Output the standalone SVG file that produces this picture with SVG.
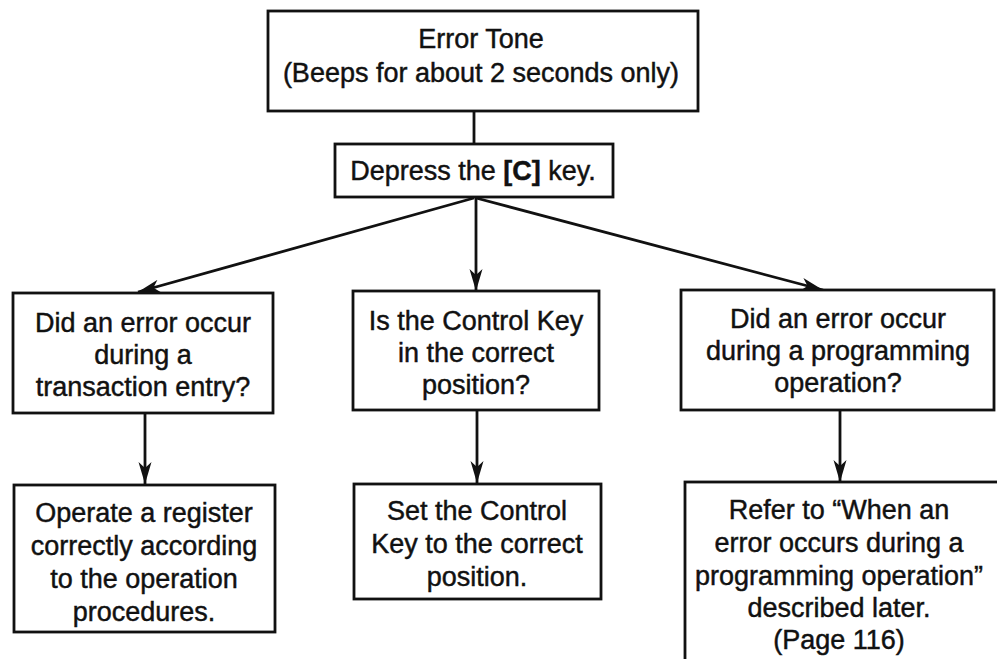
<svg xmlns="http://www.w3.org/2000/svg" width="997" height="659" viewBox="0 0 997 659">
<style>
.box{fill:#fff;stroke:#111;stroke-width:2.8}
.t{font-family:"Liberation Sans",Arial,Helvetica,sans-serif;font-size:27px;fill:#111;stroke:#111;stroke-width:0.45;text-anchor:middle}
.b{font-weight:bold}
.c{stroke:#111;stroke-width:2.8;fill:none}
</style>
<defs>
<marker id="ah" markerWidth="24" markerHeight="14" refX="22" refY="7" orient="auto" markerUnits="userSpaceOnUse">
<path d="M0,0.5 L22,7 L0,13.5 L6,7 Z" fill="#111"/>
</marker>
</defs>
<rect width="997" height="659" fill="#fff"/>
<g id="connectors">
<line class="c" x1="474" y1="111" x2="474" y2="144"/>
<line class="c" x1="474" y1="198" x2="138" y2="292" marker-end="url(#ah)"/>
<line class="c" x1="476" y1="198" x2="476" y2="291" marker-end="url(#ah)"/>
<line class="c" x1="476" y1="198" x2="823" y2="290" marker-end="url(#ah)"/>
<line class="c" x1="145" y1="413" x2="145" y2="484" marker-end="url(#ah)"/>
<line class="c" x1="477" y1="410" x2="477" y2="483" marker-end="url(#ah)"/>
<line class="c" x1="840" y1="410" x2="840" y2="482" marker-end="url(#ah)"/>
</g>
<g id="error-tone">
<rect class="box" x="268" y="11" width="430" height="100"/>
<text class="t" x="481" y="48">Error Tone</text>
<text class="t" x="481" y="82">(Beeps for about 2 seconds only)</text>
</g>
<g id="depress-c">
<rect class="box" x="335" y="144" width="278" height="53"/>
<text class="t" x="473" y="180">Depress the <tspan class="b">[C]</tspan> key.</text>
</g>
<g id="q-transaction">
<rect class="box" x="13" y="293" width="260" height="120"/>
<text class="t" x="143" y="332">Did an error occur</text>
<text class="t" x="143" y="364">during a</text>
<text class="t" x="143" y="396">transaction entry?</text>
</g>
<g id="q-control-key">
<rect class="box" x="353" y="291" width="246" height="119"/>
<text class="t" x="476" y="330">Is the Control Key</text>
<text class="t" x="476" y="362">in the correct</text>
<text class="t" x="476" y="394">position?</text>
</g>
<g id="q-programming">
<rect class="box" x="681" y="290" width="313" height="120"/>
<text class="t" x="838" y="328">Did an error occur</text>
<text class="t" x="838" y="360">during a programming</text>
<text class="t" x="838" y="392">operation?</text>
</g>
<g id="a-operate">
<rect class="box" x="14" y="485" width="261" height="147"/>
<text class="t" x="144" y="522">Operate a register</text>
<text class="t" x="144" y="555">correctly according</text>
<text class="t" x="144" y="588">to the operation</text>
<text class="t" x="144" y="621">procedures.</text>
</g>
<g id="a-set-key">
<rect class="box" x="354" y="484" width="247" height="115"/>
<text class="t" x="477" y="520">Set the Control</text>
<text class="t" x="477" y="553">Key to the correct</text>
<text class="t" x="477" y="586">position.</text>
</g>
<g id="a-refer">
<rect class="box" x="685" y="482" width="330" height="200"/>
<text class="t" x="839" y="519">Refer to “When an</text>
<text class="t" x="839" y="552">error occurs during a</text>
<text class="t" x="839" y="585">programming operation”</text>
<text class="t" x="839" y="617">described later.</text>
<text class="t" x="839" y="649">(Page 116)</text>
</g>
</svg>
